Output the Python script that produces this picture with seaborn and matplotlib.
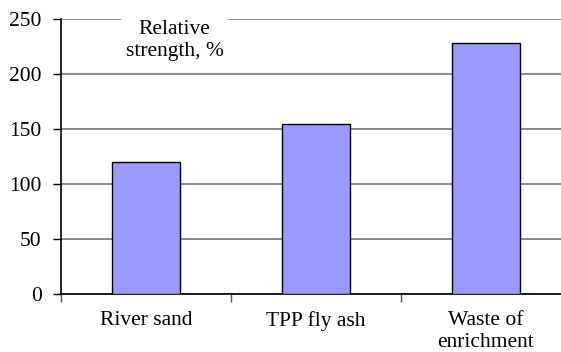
import matplotlib
matplotlib.use("Agg")
import matplotlib.pyplot as plt
import seaborn as sns
import pandas as pd

categories = ["River sand", "TPP fly ash", "Waste of\nenrichment"]
values = [120, 155, 228]
yticks = [0, 50, 100, 150, 200, 250]
title_text = "Relative\nstrength, %"

sns.set_theme(style="white")
plt.rcParams["font.family"] = ["Liberation Serif", "DejaVu Serif"]

df = pd.DataFrame({"cat": categories, "val": values})

FS = 15.5

fig = plt.figure(figsize=(5.61, 3.52), dpi=100)
ax = fig.add_axes([61 / 561, (352 - 294.3) / 352, 1 - 61 / 561, (294.3 - 19) / 352])

sns.barplot(data=df, x="cat", y="val", color="#9999FF", width=0.4,
            edgecolor="black", linewidth=1.0, saturation=1, ax=ax, zorder=3)

ax.set_ylim(0, 250)
ax.set_xlim(-0.5, -0.5 + 500 / 170)
ax.set_yticks(yticks)
ax.yaxis.grid(True, color="#808080", linewidth=1.3, zorder=0)
ax.set_axisbelow(True)
ax.set_xlabel("")
ax.set_ylabel("")
for s in ["top", "right"]:
    ax.spines[s].set_visible(False)
for s in ["left", "bottom"]:
    ax.spines[s].set_color("black")
    ax.spines[s].set_linewidth(1.2)

ax.tick_params(axis="y", which="major", left=True, length=6, width=1, color="black",
               labelsize=FS, pad=8, labelcolor="black")
ax.set_xticks([-0.5, 0.5, 1.5], minor=True)
ax.tick_params(axis="x", which="minor", bottom=True, length=6, width=1, color="#555555")
ax.tick_params(axis="x", which="major", bottom=False, labelsize=FS, pad=6, labelcolor="black")
for lbl in ax.get_xticklabels():
    lbl.set_linespacing(1.2)
    lbl.set_verticalalignment("top")

fig.text(174.5 / 561, 1 - 40.5 / 352, title_text,
         ha="center", va="center", fontsize=FS, linespacing=1.2, color="black",
         bbox=dict(facecolor="white", edgecolor="none", pad=3), zorder=5)

fig.savefig("out.png", dpi=100)
